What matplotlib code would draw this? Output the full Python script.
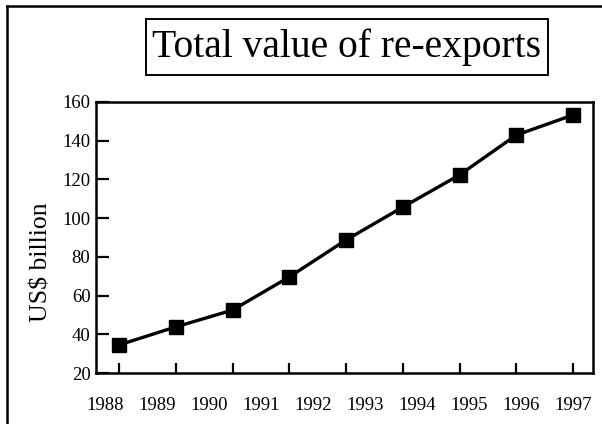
import matplotlib
matplotlib.use("Agg")
import matplotlib.pyplot as plt
from matplotlib.patches import Rectangle
from matplotlib.lines import Line2D

plt.rcParams['font.family'] = ['Liberation Serif', 'DejaVu Serif']

# Data
year_labels = ['1988', '1989', '1990', '1991', '1992', '1993', '1994', '1995', '1996', '1997']
values = [34.5, 43.8, 52.5, 69.6, 88.7, 105.7, 122.3, 142.9, 153.3]
y_ticks = [20, 40, 60, 80, 100, 120, 140, 160]
title = 'Total value of re-exports'
ylabel = 'US$ billion'

W, H = 602, 424
fig = plt.figure(figsize=(W / 100, H / 100), dpi=100)

# axes rectangle in pixels
L, R, T, B = 96, 593, 102, 373
ax = fig.add_axes([L / W, 1 - B / H, (R - L) / W, (B - T) / H])

pos = list(range(len(values)))
ax.plot(pos, values, color='black', lw=2.4, marker='s', ms=10.5,
        markerfacecolor='black', markeredgecolor='black', zorder=3)

# x-axis for points (ticks only)
tick0, tick_step = 119, 56.75
ax.set_xlim((L - tick0) / tick_step, (R - tick0) / tick_step)
ax.set_xticks(pos)
ax.set_xticklabels([])
ax.tick_params(axis='x', direction='in', length=7, width=1.6, color='black')

ax.set_ylim(20, 160)
ax.set_yticks(y_ticks)
ax.set_yticklabels([str(v) for v in y_ticks], fontsize=13.5)
ax.tick_params(axis='y', direction='in', length=9, width=1.6, pad=4, color='black')
ax.set_ylabel(ylabel, fontsize=18.5)
ax.yaxis.set_label_coords(-0.088, 0.41)

for s in ax.spines.values():
    s.set_linewidth(1.8)

# secondary x-axis carrying the year labels (evenly spread)
ax2 = ax.twiny()
ax2.xaxis.set_ticks_position('bottom')
ax2.xaxis.set_label_position('bottom')
lab0, lab_step = 105, 52
ax2.set_xlim((L - lab0) / lab_step, (R - lab0) / lab_step)
ax2.set_xticks(range(len(year_labels)))
ax2.set_xticklabels(year_labels, fontsize=13.5)
ax2.tick_params(axis='x', length=0, pad=17)
for s in ax2.spines.values():
    s.set_visible(False)

# title box
bx0, bx1, by0, by1 = 146, 548, 19, 75
fig.patches.append(Rectangle((bx0 / W, 1 - by1 / H), (bx1 - bx0) / W, (by1 - by0) / H,
                             transform=fig.transFigure, fill=False, lw=1.4,
                             edgecolor='black'))
fig.text((bx0 + bx1) / 2 / W, 1 - (by0 + by1) / 2 / H, title, fontsize=28.5,
         ha='center', va='center')

# outer frame (top and left)
fig.lines.append(Line2D([7 / W, 7 / W], [0, 1 - 6 / H], transform=fig.transFigure,
                        color='black', lw=1.8))
fig.lines.append(Line2D([7 / W, 1], [1 - 6 / H, 1 - 6 / H], transform=fig.transFigure,
                        color='black', lw=1.8))

fig.savefig('out.png', dpi=100)
